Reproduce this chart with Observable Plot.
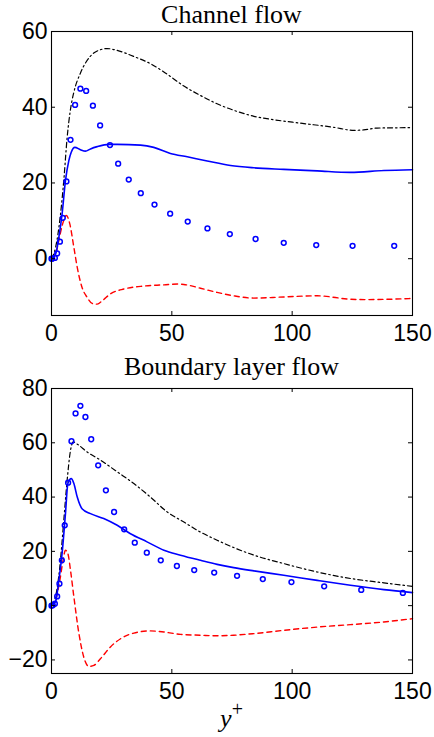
<!DOCTYPE html>
<html>
<head>
<meta charset="utf-8">
<script src="https://cdn.jsdelivr.net/npm/d3@7"></script>
<script src="https://cdn.jsdelivr.net/npm/@observablehq/plot@0.6"></script>
<style>
  html, body { margin: 0; padding: 0; background: #fff; }
  #wrap { position: relative; width: 434px; height: 737px; }
  #wrap svg { position: absolute; left: 0; }
  .ttl { position: absolute; left: 51px; width: 361px; text-align: center;
         font-family: "Liberation Serif", "Times New Roman", serif; font-size: 26px;
         line-height: normal; color: #000; white-space: nowrap; }
  .xlab { font-style: italic; }
  .xlab sup { font-style: normal; font-size: 20px; vertical-align: baseline; position: relative; top: -0.55em; }
</style>
</head>
<body>
<div id="wrap"></div>
<script>
// ---------- Data ----------
const xTicks = [0, 50, 100, 150];
const channelYTicks = [0, 20, 40, 60];
const boundaryYTicks = [-20, 0, 20, 40, 60, 80];

const channelTitle = "Channel flow";
const boundaryTitle = "Boundary layer flow";

// Channel flow: circles
const chCircX = [0, 0.3, 1.4, 2.35, 3.5, 4.7, 6.2, 7.9, 9.8, 12.0, 14.4, 17.2, 20.2, 24.3, 27.7, 32.1, 37.1, 42.8, 49.3, 56.6, 64.8, 74.1, 84.8, 96.5, 110.0, 125.1, 142.4];
const chCircY = [0, 0, 0.2, 1.4, 4.5, 10.8, 20.4, 31.4, 40.6, 44.9, 44.3, 40.4, 35.2, 30.0, 25.1, 20.9, 17.3, 14.3, 11.9, 9.8, 8.0, 6.5, 5.2, 4.2, 3.6, 3.4, 3.4];
// Channel flow: black dash-dot
const chDashDotX = [0, 1.7, 3.7, 5.1, 6.5, 7.9, 9.3, 12.0, 16.2, 20.4, 23.1, 27.3, 34.2, 41.1, 48.1, 55.0, 61.9, 68.8, 75.7, 84.1, 92.4, 103.4, 117.3, 125.6, 129.7, 135.3, 150];
const chDashDotY = [0, 3.0, 11.5, 20.6, 32.0, 39.5, 44.0, 49.0, 53.5, 55.2, 55.5, 55.0, 53.4, 51.5, 48.7, 45.6, 43.1, 40.9, 39.2, 37.6, 36.7, 35.8, 34.7, 33.9, 34.0, 34.5, 34.6];
// Channel flow: blue solid
const chSolidX = [0, 1.7, 3.05, 4.4, 5.8, 7.2, 8.2, 9.7, 12.0, 14.1, 16.2, 19.0, 23.9, 27.3, 37.0, 42.5, 49.4, 56.4, 64.7, 74.4, 84.1, 96.5, 110.4, 124.2, 138.1, 150];
const chSolidY = [0, 1.2, 5.6, 11.8, 20.6, 25.9, 28.1, 29.4, 28.8, 28.4, 29.0, 29.6, 30.2, 30.2, 30.0, 29.4, 27.8, 26.9, 25.8, 24.6, 24.0, 23.6, 23.2, 22.8, 23.3, 23.5];
// Channel flow: red dashed
const chDashX = [0, 1.7, 3.05, 4.4, 6.2, 7.6, 9.3, 10.7, 12.7, 14.8, 16.9, 19.0, 21.1, 24.5, 30.1, 37.1, 46.8, 52.4, 55.0, 61.9, 68.8, 75.7, 84.1, 96.5, 110.4, 124.2, 131.1, 150];
const chDashY = [0, 1.2, 4.8, 8.7, 11.4, 9.2, 3.0, -2.3, -7.6, -10.2, -11.8, -12.0, -11.1, -9.3, -8.0, -7.3, -6.9, -6.7, -6.8, -7.8, -8.9, -9.8, -10.4, -10.1, -9.8, -10.7, -10.8, -10.5];

// Boundary layer flow: circles
const blCircX = [0, 0.55, 1.4, 2.35, 3.3, 4.3, 5.5, 6.9, 8.3, 10.0, 12.0, 14.1, 16.5, 19.4, 22.6, 26.0, 30.2, 34.6, 39.6, 45.4, 52.1, 59.3, 67.6, 77.1, 87.8, 99.7, 113.3, 128.7, 146.0];
const blCircY = [0, 0.1, 0.7, 3.4, 8.1, 16.7, 29.6, 45.3, 60.6, 70.8, 73.6, 69.5, 61.3, 51.7, 42.5, 34.5, 28.1, 23.2, 19.5, 16.7, 14.6, 13.1, 12.2, 11.0, 9.8, 8.7, 7.1, 5.8, 4.7];
// Boundary layer flow: black dash-dot
const blDashDotX = [0, 1.66, 3.46, 5.1, 6.5, 7.9, 9.0, 10.7, 14.8, 20.4, 27.3, 34.2, 41.1, 48.1, 55.0, 61.9, 68.8, 75.7, 84.1, 96.5, 110.4, 124.2, 138.1, 150];
const blDashDotY = [0, 3.2, 14.3, 31.4, 46.2, 57.2, 60.3, 59.5, 56.6, 53.6, 49.3, 45.0, 40.0, 34.5, 30.8, 27.1, 24.1, 21.4, 18.6, 15.5, 12.4, 10.0, 8.4, 7.1];
// Boundary layer flow: blue solid
const blSolidX = [0, 1.66, 3.05, 4.4, 5.8, 6.8, 8.2, 9.3, 10.7, 12.7, 16.2, 21.7, 27.3, 32.8, 39.7, 46.7, 53.6, 61.9, 68.8, 75.7, 84.1, 96.5, 110.4, 124.2, 138.1, 150];
const blSolidY = [0, 1.4, 9.3, 19.2, 33.9, 45.0, 46.8, 45.0, 40.0, 35.7, 33.9, 32.1, 29.6, 26.5, 23.5, 20.4, 18.6, 16.7, 15.2, 14.0, 12.8, 11.2, 9.3, 7.5, 5.9, 4.8];
// Boundary layer flow: red dashed
const blDashX = [0, 1.66, 3.46, 4.8, 5.8, 6.8, 7.9, 9.3, 11.4, 13.4, 15.5, 17.6, 20.4, 24.5, 28.7, 34.2, 41.1, 46.7, 53.6, 61.9, 68.8, 75.7, 84.1, 96.5, 110.4, 124.2, 138.1, 150];
const blDashY = [0, 2.0, 9.3, 16.7, 20.4, 19.2, 13.0, 3.2, -10.3, -18.9, -22.4, -22.0, -19.5, -15.2, -12.2, -10.1, -9.3, -9.7, -10.6, -10.9, -11.1, -10.9, -10.3, -9.1, -7.9, -7.0, -6.0, -4.8];

// ---------- Helpers ----------
const zip = (xs, ys) => xs.map((x, i) => ({x, y: ys[i]}));
const BLUE = "#0000ff", RED = "#ff0000", BLACK = "#000000";
const W = 434, ML = 51, MR = 22;

function panel({height, marginTop, marginBottom, yDomain, yTicks, circ, dashDot, solid, dash}) {
  const ph = height - marginTop - marginBottom;
  const pw = W - ML - MR;
  return Plot.plot({
    width: W, height, marginLeft: ML, marginRight: MR, marginTop, marginBottom,
    x: {domain: [0, 150]},
    y: {domain: yDomain},
    style: {fontFamily: "'Liberation Sans', Arial, Helvetica, sans-serif", fontSize: "23px", background: "transparent", color: "#000", overflow: "visible"},
    marks: [
      Plot.line(dash, {x: "x", y: "y", stroke: RED, strokeWidth: 1.4, strokeDasharray: "5,4", curve: "monotone-x"}),
      Plot.line(dashDot, {x: "x", y: "y", stroke: BLACK, strokeWidth: 1.2, strokeDasharray: "5,3,1.5,3", curve: "monotone-x"}),
      Plot.line(solid, {x: "x", y: "y", stroke: BLUE, strokeWidth: 1.6, curve: "monotone-x"}),
      Plot.dot(circ, {x: "x", y: "y", r: 2.4, stroke: BLUE, strokeWidth: 1.5, fill: "none"}),
      Plot.tickX(xTicks, {x: d => d, insetTop: ph - 4, stroke: BLACK}),
      Plot.tickX(xTicks, {x: d => d, insetBottom: ph - 4, stroke: BLACK}),
      Plot.tickY(yTicks, {y: d => d, insetRight: pw - 4, stroke: BLACK}),
      Plot.tickY(yTicks, {y: d => d, insetLeft: pw - 4, stroke: BLACK}),
      Plot.axisX(xTicks, {tickSize: 0, tickPadding: 9, label: null}),
      Plot.axisY(yTicks, {tickSize: 0, tickPadding: 4, label: null}),
      Plot.frame({stroke: BLACK, strokeWidth: 1.1})
    ]
  });
}

const wrap = document.getElementById("wrap");

const p1 = panel({
  height: 345, marginTop: 31, marginBottom: 30,
  yDomain: [-15, 60], yTicks: channelYTicks,
  circ: zip(chCircX, chCircY), dashDot: zip(chDashDotX, chDashDotY),
  solid: zip(chSolidX, chSolidY), dash: zip(chDashX, chDashY)
});
p1.style.top = "0px";
wrap.appendChild(p1);

const p2 = panel({
  height: 355, marginTop: 38, marginBottom: 32,
  yDomain: [-25, 80], yTicks: boundaryYTicks,
  circ: zip(blCircX, blCircY), dashDot: zip(blDashDotX, blDashDotY),
  solid: zip(blSolidX, blSolidY), dash: zip(blDashX, blDashY)
});
p2.style.top = "350px";
wrap.appendChild(p2);

function addTitle(text, top, cls) {
  const d = document.createElement("div");
  d.className = "ttl" + (cls ? " " + cls : "");
  d.style.top = top + "px";
  if (typeof text === "string") d.textContent = text; else d.innerHTML = text.html;
  wrap.appendChild(d);
}
addTitle(channelTitle, 0);
addTitle(boundaryTitle, 352);
addTitle({html: "y<sup>+</sup>"}, 704, "xlab");
</script>
</body>
</html>
